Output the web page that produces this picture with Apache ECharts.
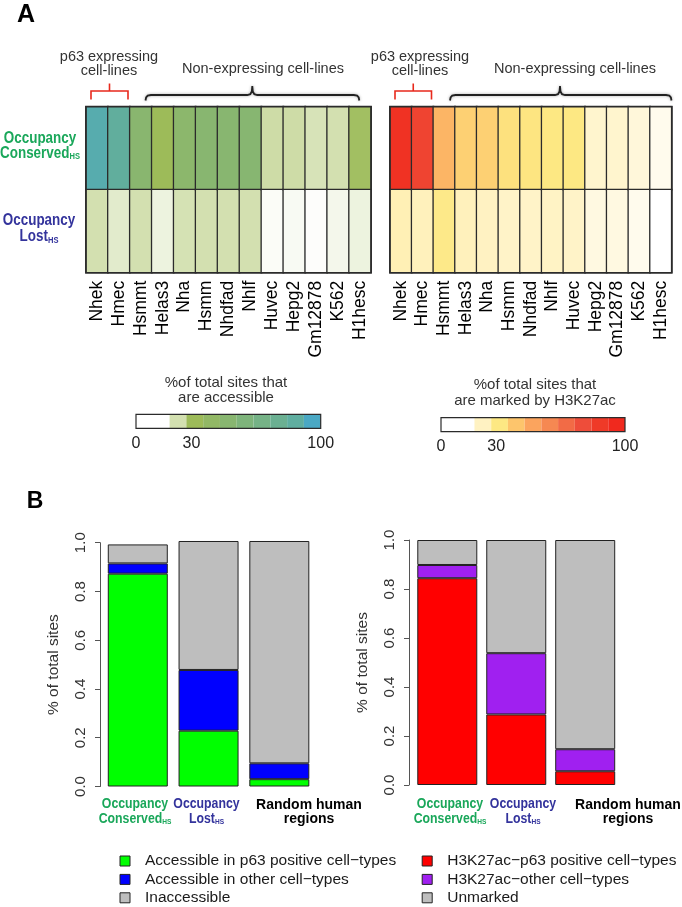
<!DOCTYPE html>
<html>
<head>
<meta charset="utf-8">
<script src="https://cdn.jsdelivr.net/npm/echarts@6/dist/echarts.min.js"></script>
<style>
  html, body { margin: 0; padding: 0; background: #fff; }
  #chart { width: 682px; height: 907px; }
</style>
</head>
<body>
<div id="chart"></div>
<script>
// ---- panel A: % of sites per cell line ----
const cellLines = ['Nhek', 'Hmec', 'Hsmmt', 'Helas3', 'Nha', 'Hsmm', 'Nhdfad', 'Nhlf', 'Huvec', 'Hepg2', 'Gm12878', 'K562', 'H1hesc']
const rowNames = ['Lost', 'Conserved']
const accessConserved = [94, 88, 49, 30, 46, 50, 50, 51, 21, 21, 19, 20, 29]
const accessLost = [20, 16.5, 20, 14, 19.5, 20, 20, 20, 11, 11.5, 10.5, 12.5, 14]
const h3k27Conserved = [95, 85, 45, 37, 37, 32, 31, 30, 30, 18, 18, 16, 13]
const h3k27Lost = [22, 21, 29, 21, 20, 19, 19, 19.5, 19, 15, 15, 13, 5]
const scaleTicks = [0, 30, 100]

// ---- panel B: fraction of sites ----
const groups = ['Conserved', 'Lost', 'Random']
const accP63 = [0.873, 0.229, 0.03]
const accOther = [0.042, 0.249, 0.065]
const inaccessible = [0.078, 0.529, 0.912]
const h3P63 = [0.844, 0.288, 0.056]
const h3Other = [0.054, 0.25, 0.09]
const unmarked = [0.102, 0.462, 0.854]

const accessPalette = ['#ffffff', '#ffffff', '#d3e0b0', '#9dbb59', '#92b865', '#88b670', '#7eb47b', '#75b286', '#6bb092', '#5faea0', '#4aa8c4']
const h3k27Palette = ['#ffffff', '#ffffff', '#fff2c2', '#fde883', '#fdc56c', '#fba45e', '#f68852', '#f26b46', '#ee4d3a', '#ef3a28', '#f0291e']

const SANS = "'Liberation Sans', Arial, sans-serif"
const GREEN = '#1aa75a'
const BLUE = '#33339c'

const heatData = (top, bottom) => cellLines.flatMap((c, i) => [[i, 1, top[i]], [i, 0, bottom[i]]])
const barSegments = pal => pal.map((c, i) => [i * 100 / pal.length, (i + 1) * 100 / pal.length, i])

const chart = echarts.init(document.getElementById('chart'))

const frame = { show: true, borderColor: '#2b2b2b', borderWidth: 1.6, backgroundColor: 'transparent', z: 10 }
const noBounds = { outerBoundsMode: 'none', containLabel: false }

const heatX = gi => ({
  type: 'category', gridIndex: gi, data: cellLines,
  axisLine: { show: false }, axisTick: { show: false }, splitLine: { show: false },
  axisLabel: { rotate: 90, interval: 0, margin: 8, fontSize: 17.5, color: '#000', fontFamily: SANS }
})
const heatY = gi => ({
  type: 'category', gridIndex: gi, data: rowNames,
  axisLine: { show: false }, axisTick: { show: false }, splitLine: { show: false }, axisLabel: { show: false }
})
const cbX = gi => ({
  type: 'value', gridIndex: gi, min: 0, max: 100,
  axisLine: { show: false }, axisTick: { show: false }, splitLine: { show: false },
  axisLabel: { customValues: scaleTicks, showMinLabel: true, showMaxLabel: true, margin: 7, fontSize: 16, color: '#222', fontFamily: SANS }
})
const cbY = gi => ({ type: 'value', gridIndex: gi, min: 0, max: 1, show: false })
const barX = gi => ({
  type: 'category', gridIndex: gi, data: groups,
  axisLine: { show: false }, axisTick: { show: false }, axisLabel: { show: false }
})
const barY = (gi, off) => ({
  type: 'value', gridIndex: gi, min: 0, max: 1, interval: 0.2, offset: off,
  axisLine: { show: true, lineStyle: { color: '#555', width: 1 } },
  axisTick: { show: true, length: 5, lineStyle: { color: '#555' } },
  splitLine: { show: false },
  axisLabel: { rotate: 90, margin: 12, fontSize: 15, color: '#333', fontFamily: SANS, formatter: v => v.toFixed(1) },
  name: '% of total sites', nameLocation: 'middle', nameRotate: 90, nameGap: 38,
  nameTextStyle: { fontSize: 15.5, color: '#333', fontFamily: SANS }
})

const colorBar = (gi, pal) => ({
  type: 'custom', xAxisIndex: gi, yAxisIndex: gi, data: barSegments(pal), silent: true,
  renderItem: (params, api) => {
    const p0 = api.coord([api.value(0), 1])
    const p1 = api.coord([api.value(1), 0])
    return { type: 'rect', shape: { x: p0[0], y: p0[1], width: p1[0] - p0[0], height: p1[1] - p0[1] }, style: { fill: pal[api.value(2)] } }
  }
})
const stackBar = (gi, stack, name, data, color) => ({
  type: 'bar', name, xAxisIndex: gi, yAxisIndex: gi, stack, data, barWidth: 60, clip: false,
  itemStyle: { color, borderColor: '#222', borderWidth: 1 }
})

const legendBase = {
  orient: 'vertical', icon: 'rect', itemWidth: 10, itemHeight: 10, itemGap: 2.4, selectedMode: false,
  height: 80, padding: 5,
  itemStyle: { borderColor: '#222', borderWidth: 1 },
  textStyle: { fontSize: 15.5, color: '#1a1a1a', fontFamily: SANS, padding: [0, 0, 0, 10] }
}

const txt = (x, y, text, extra) => ({
  type: 'text', x, y, silent: true,
  style: Object.assign({ text, align: 'center', verticalAlign: 'middle', fontSize: 14.5, fontFamily: SANS, fill: '#333', lineHeight: 14 }, extra || {})
})
// condensed bold labels with an "HS" subscript
const subRich = (color, size, subSize, lh, subLh) => ({
  m: { fill: color, fontSize: size, fontWeight: 'bold', fontFamily: SANS, lineHeight: lh },
  s: { fill: color, fontSize: subSize, fontWeight: 'bold', fontFamily: SANS, lineHeight: subLh, verticalAlign: 'bottom' }
})
const narrowLabel = (x, y, text, color, size, subSize, lh, subLh, sx) => ({
  type: 'text', x, y, silent: true, scaleX: sx,
  style: { text, align: 'center', verticalAlign: 'middle', rich: subRich(color, size, subSize, lh, subLh) }
})
const poly = (points, stroke, extra) => ({
  type: 'polyline', silent: true, shape: { points },
  style: Object.assign({ fill: null, stroke, lineWidth: 1.6 }, extra || {})
})
// square bracket over the p63 columns
const bracket = (x0, x1) => [
  poly([[x0, 99.5], [x0, 91], [x1, 91], [x1, 99.5]], '#e8291c'),
  poly([[(x0 + x1) / 2, 91], [(x0 + x1) / 2, 83.5]], '#e8291c')
]
// curly brace over the other columns
const brace = (x0, xm, x1) => poly([
  [x0, 100.5], [x0 + 0.6, 97.5], [x0 + 2.2, 95.6], [x0 + 5.5, 95],
  [xm - 5, 95], [xm - 2, 94.2], [xm - 0.5, 91.5], [xm, 86],
  [xm + 0.5, 91.5], [xm + 2, 94.2], [xm + 5, 95],
  [x1 - 5.5, 95], [x1 - 2.2, 95.6], [x1 - 0.6, 97.5], [x1, 100.5]
], '#222', { lineWidth: 1.8, shadowBlur: 3, shadowColor: 'rgba(0,0,0,0.35)' })

const conservedTxt = '{m|Occupancy}\n{m|Conserved}{s|HS}'
const lostTxt = '{m|Occupancy}\n{m|Lost}{s|HS}'
const randomTxt = 'Random human\nregions'

chart.setOption({
  backgroundColor: '#fff',
  animation: false,
  grid: [
    Object.assign({ left: 86, top: 106.7, width: 285, height: 166 }, frame, noBounds),
    Object.assign({ left: 390, top: 106.7, width: 281.7, height: 166 }, frame, noBounds),
    Object.assign({ left: 136, top: 414.3, width: 184.7, height: 14 }, frame, noBounds, { borderWidth: 1.2 }),
    Object.assign({ left: 441, top: 417.7, width: 184, height: 14 }, frame, noBounds, { borderWidth: 1.2 }),
    Object.assign({ left: 102.4, top: 542.7, width: 212.3, height: 243.8 }, noBounds),
    Object.assign({ left: 412.8, top: 540, width: 206.9, height: 245 }, noBounds)
  ],
  xAxis: [heatX(0), heatX(1), cbX(2), cbX(3), barX(4), barX(5)],
  yAxis: [heatY(0), heatY(1), cbY(2), cbY(3), barY(4, 2.4), barY(5, 3.8)],
  visualMap: [
    { type: 'continuous', show: false, seriesIndex: 0, min: 0, max: 100, inRange: { color: accessPalette } },
    { type: 'continuous', show: false, seriesIndex: 1, min: 0, max: 100, inRange: { color: h3k27Palette } }
  ],
  legend: [
    Object.assign({ left: 114.5, top: 848, data: ['Accessible in p63 positive cell\u2212types', 'Accessible in other cell\u2212types', 'Inaccessible'] }, legendBase),
    Object.assign({ left: 416.7, top: 848, data: ['H3K27ac\u2212p63 positive cell\u2212types', 'H3K27ac\u2212other cell\u2212types', 'Unmarked'] }, legendBase)
  ],
  series: [
    { type: 'heatmap', xAxisIndex: 0, yAxisIndex: 0, data: heatData(accessConserved, accessLost), itemStyle: { borderColor: '#2b2b2b', borderWidth: 1.3 } },
    { type: 'heatmap', xAxisIndex: 1, yAxisIndex: 1, data: heatData(h3k27Conserved, h3k27Lost), itemStyle: { borderColor: '#2b2b2b', borderWidth: 1.3 } },
    colorBar(2, accessPalette),
    colorBar(3, h3k27Palette),
    stackBar(4, 'acc', 'Accessible in p63 positive cell\u2212types', accP63, '#00ff00'),
    stackBar(4, 'acc', 'Accessible in other cell\u2212types', accOther, '#0000ff'),
    stackBar(4, 'acc', 'Inaccessible', inaccessible, '#bebebe'),
    stackBar(5, 'h3', 'H3K27ac\u2212p63 positive cell\u2212types', h3P63, '#ff0000'),
    stackBar(5, 'h3', 'H3K27ac\u2212other cell\u2212types', h3Other, '#a020f0'),
    stackBar(5, 'h3', 'Unmarked', unmarked, '#bebebe')
  ],
  graphic: [
    txt(26, 15, 'A', { fontSize: 25, fontWeight: 'bold', fill: '#000' }),
    txt(35, 502, 'B', { fontSize: 23, fontWeight: 'bold', fill: '#000' }),
    txt(109, 64, 'p63 expressing\ncell-lines'),
    txt(263, 69, 'Non-expressing cell-lines'),
    txt(420, 64, 'p63 expressing\ncell-lines'),
    txt(575, 69, 'Non-expressing cell-lines'),
    ...bracket(91, 128),
    ...bracket(395, 431.5),
    brace(145.5, 252.3, 359.3),
    brace(450, 560, 671.5),
    txt(226, 390.5, '%of total sites that\nare accessible', { fontSize: 15, lineHeight: 15 }),
    txt(535, 393, '%of total sites that\nare marked by H3K27ac', { fontSize: 15, lineHeight: 16 }),
    // row labels of the heatmaps
    narrowLabel(40, 146, conservedTxt, GREEN, 16, 9, 15, 3, 0.84),
    narrowLabel(39, 229, lostTxt, BLUE, 16, 9, 16, 3, 0.84),
    // group labels under the bars
    narrowLabel(135, 811, conservedTxt, GREEN, 15, 8, 15, 6, 0.82),
    narrowLabel(206.5, 811, lostTxt, BLUE, 15, 8, 15, 6, 0.82),
    txt(309, 812.5, randomTxt, { fontSize: 14, fontWeight: 'bold', fill: '#000', lineHeight: 14 }),
    narrowLabel(450, 811, conservedTxt, GREEN, 15, 8, 15, 6, 0.82),
    narrowLabel(523, 811, lostTxt, BLUE, 15, 8, 15, 6, 0.82),
    txt(628, 812.5, randomTxt, { fontSize: 14, fontWeight: 'bold', fill: '#000', lineHeight: 14 })
  ]
})
</script>
</body>
</html>
